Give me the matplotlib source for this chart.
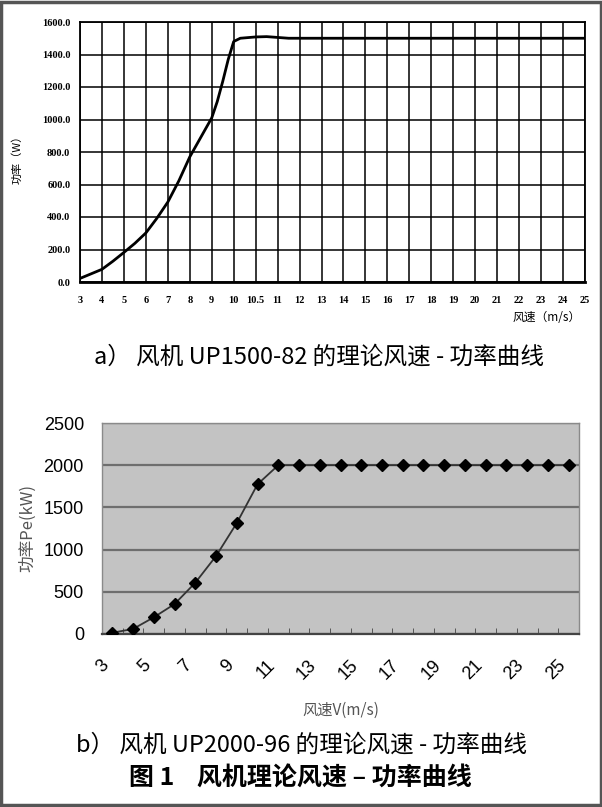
import matplotlib.pyplot as plt
import matplotlib.transforms as mtrans
import numpy as np
from matplotlib.patches import Rectangle

# ---- data: top chart (UP1500-82), categorical wind-speed axis ----
top_ticks = [3, 4, 5, 6, 7, 8, 9, 10, 10.5, 11, 12, 13, 14, 15, 16, 17, 18,
             19, 20, 21, 22, 23, 24, 25]
top_speed = [3, 3.5, 4, 4.5, 5, 5.5, 6, 6.5, 7, 7.5, 8, 8.5, 9, 9.25, 9.5, 9.75,
             10, 10.15, 10.5, 10.75, 11, 11.5, 12, 25]
top_power = [22, 50, 78, 128, 182, 238, 302, 392, 492, 622, 770, 890, 1010, 1110,
             1234, 1369, 1480, 1500, 1508, 1510, 1505, 1500, 1500, 1500]

# ---- data: bottom chart (UP2000-96) ----
bot_speed = list(range(3, 26))
bot_power = [15, 60, 198, 355, 608, 924, 1315, 1774, 2000, 2000, 2000, 2000,
             2000, 2000, 2000, 2000, 2000, 2000, 2000, 2000, 2000, 2000, 2000]

cjk = ['Noto Sans CJK SC', 'DejaVu Sans']
W, H = 602, 807
fig = plt.figure(figsize=(W / 100, H / 100), dpi=100)


def box(l, t, r, b):
    return [l / W, 1 - b / H, (r - l) / W, (b - t) / H]


# ---------------- top chart ----------------
ax1 = fig.add_axes(box(80, 22, 585, 282))
pos = np.arange(len(top_ticks))
xs = np.interp(top_speed, top_ticks, pos)
ax1.plot(xs, top_power, color='black', lw=2)
ax1.set_xlim(0, len(top_ticks) - 1)
ax1.set_ylim(0, 1600)
ax1.set_xticks(pos)
ax1.set_xticklabels([('%g' % v) for v in top_ticks], fontsize=7.5,
                    fontweight='bold', family='Liberation Serif')
ax1.set_yticks(np.arange(0, 1601, 200))
ax1.set_yticklabels(['%.1f' % v for v in np.arange(0, 1601, 200)], fontsize=7.5,
                    fontweight='bold', family='Liberation Serif')
ax1.tick_params(length=0, pad=10)
ax1.tick_params(axis='y', pad=7)
ax1.grid(True, color='black', lw=1.1)
for s in ax1.spines.values():
    s.set_linewidth(1.3)
ax1.spines['bottom'].set_linewidth(2)
fig.text(17 / W, 1 - 157 / H, '功率（W）', rotation=90, ha='center', va='center',
         fontsize=8, family=cjk)
fig.text(547 / W, 1 - 318 / H, '风速（m/s）', ha='center', va='center',
         fontsize=8.5, family=cjk)

fig.text(319 / W, 1 - 357 / H, 'a） 风机 UP1500-82 的理论风速 - 功率曲线',
         ha='center', va='center', fontsize=17, family=cjk)

# ---------------- bottom chart ----------------
ax2 = fig.add_axes(box(102, 423, 579, 634))
ax2.set_facecolor('#c3c3c3')
bpos = np.arange(len(bot_speed))
ax2.plot(bpos, bot_power, color='#333333', lw=1.3, marker='D', ms=6.5,
         mfc='black', mec='black', zorder=3)
ax2.set_xlim(-0.5, len(bot_speed) - 0.5)
ax2.set_ylim(0, 2500)
ax2.set_yticks(np.arange(0, 2501, 500))
ax2.set_yticklabels([str(v) for v in range(0, 2501, 500)], fontsize=13,
                    family='Liberation Sans')
ax2.set_xticks(bpos[::2])
ax2.set_xticklabels([str(v) for v in bot_speed[::2]], rotation=45, ha='right',
                    rotation_mode='anchor', fontsize=13, family='Liberation Sans')
ax2.set_xticks(np.arange(-0.5, len(bot_speed), 1), minor=True)
ax2.tick_params(axis='x', which='major', length=0, pad=14)
ax2.tick_params(axis='x', which='minor', direction='in', length=4, color='#444444')
ax2.tick_params(axis='y', length=0, pad=13)
# Excel-style: rotated labels sit left of their category
shift = mtrans.ScaledTranslation(-0.12, -0.03, fig.dpi_scale_trans)
for lab in ax2.get_xticklabels():
    lab.set_transform(lab.get_transform() + shift)
ax2.grid(True, axis='y', color='#6e6e6e', lw=1.6)
ax2.set_axisbelow(True)
for s in ax2.spines.values():
    s.set_color('#8a8a8a')
    s.set_linewidth(1)
ax2.spines['bottom'].set_color('#444444')
ax2.spines['bottom'].set_linewidth(1.6)
fig.text(28 / W, 1 - 528 / H, '功率Pe(kW)', rotation=90, ha='center', va='center',
         fontsize=12, color='#555555', family=cjk)
fig.text(341 / W, 1 - 710 / H, '风速V(m/s)', ha='center', va='center',
         fontsize=11, color='#555555', family=cjk)

fig.text(301 / W, 1 - 745 / H, 'b） 风机 UP2000-96 的理论风速 - 功率曲线',
         ha='center', va='center', fontsize=17, family=cjk)
fig.text(300 / W, 1 - 779 / H, '图 1    风机理论风速 – 功率曲线',
         ha='center', va='center', fontsize=18, fontweight='bold', family=cjk)

# outer frame of the figure
fig.patches.append(Rectangle((0.002, 0.002), 0.996, 0.996, transform=fig.transFigure,
                             fill=False, ec='#555555', lw=2.5))

fig.savefig('out.png', dpi=100)
